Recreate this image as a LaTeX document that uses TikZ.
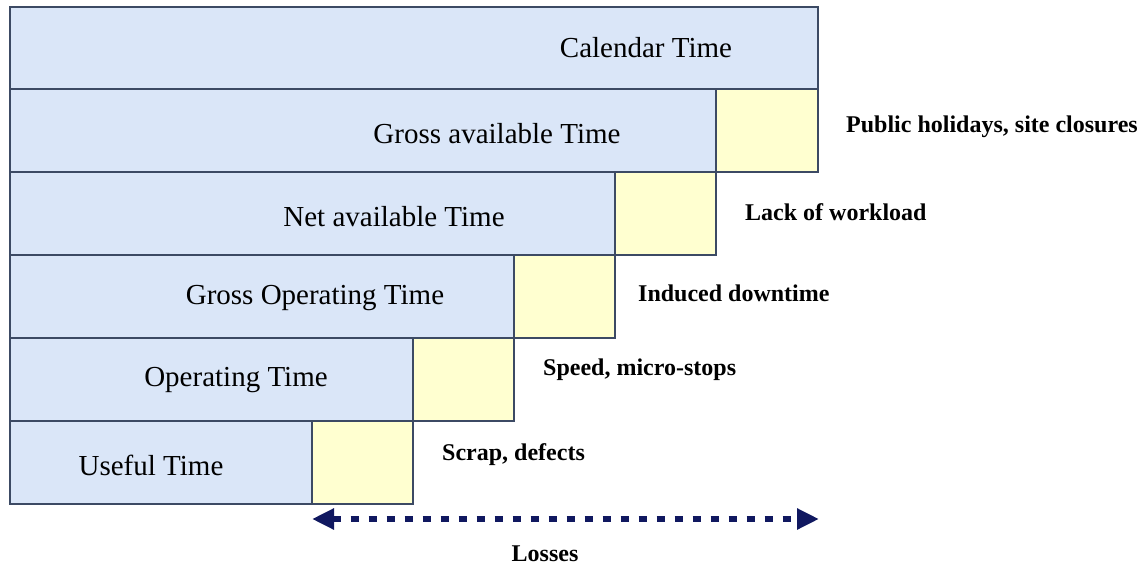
\documentclass[tikz,border=0pt]{standalone}
\usepackage{fontspec}
\setmainfont{Liberation Serif}
\usetikzlibrary{arrows.meta}
\definecolor{boxblue}{HTML}{DAE6F8}
\definecolor{boxyellow}{HTML}{FFFFD0}
\definecolor{edge}{HTML}{3C4A64}
\definecolor{navy}{HTML}{101860}
\begin{document}
\begin{tikzpicture}[x=1pt,y=-1pt,
  timebox/.style={fill=boxblue,draw=edge,line width=1.3pt},
  lossbox/.style={fill=boxyellow,draw=edge,line width=1.3pt},
  timelabel/.style={font=\fontsize{29}{34}\selectfont,inner sep=0pt},
  losslabel/.style={font=\fontsize{24}{28}\selectfont\bfseries,anchor=west,inner sep=0pt}]
\useasboundingbox (0,0) rectangle (1141,567);
% time rows
\draw[timebox] (10,7) rectangle (818,89);
\draw[timebox] (10,89) rectangle (716,172);
\draw[timebox] (10,172) rectangle (615,255);
\draw[timebox] (10,255) rectangle (514,338);
\draw[timebox] (10,338) rectangle (413,421);
\draw[timebox] (10,421) rectangle (312,504);
% loss boxes
\draw[lossbox] (716,89) rectangle (818,172);
\draw[lossbox] (615,172) rectangle (716,255);
\draw[lossbox] (514,255) rectangle (615,338);
\draw[lossbox] (413,338) rectangle (514,421);
\draw[lossbox] (312,421) rectangle (413,504);
% time labels
\node[timelabel] (cal) at (646,48) {Calendar Time};
\node[timelabel] (gat) at (497,134) {Gross available Time};
\node[timelabel] (nat) at (394,217) {Net available Time};
\node[timelabel] (got) at (315,298) {Gross Operating Time};
\node[timelabel] (ot) at (236,380) {Operating Time};
\node[timelabel] (ut) at (151,465) {Useful Time};
% loss labels
\node[losslabel] (l1) at (846,127) {Public holidays, site closures};
\node[losslabel] (l2) at (745,212) {Lack of workload};
\node[losslabel] (l3) at (638,293) {Induced downtime};
\node[losslabel] (l4) at (543,370) {Speed, micro-stops};
\node[losslabel] (l5) at (442,455) {Scrap, defects};
% losses arrow
\coordinate (aL) at (312,519);
\coordinate (aR) at (819,519);
\draw[navy,line width=6.5pt,dash pattern=on 8pt off 10pt,
  {Triangle[length=22pt,width=20pt]}-{Triangle[length=22pt,width=20pt]}] (aL) -- (aR);
\node[font=\fontsize{24}{28}\selectfont\bfseries,inner sep=0pt] (loss) at (545,554) {Losses};
\end{tikzpicture}
\end{document}
